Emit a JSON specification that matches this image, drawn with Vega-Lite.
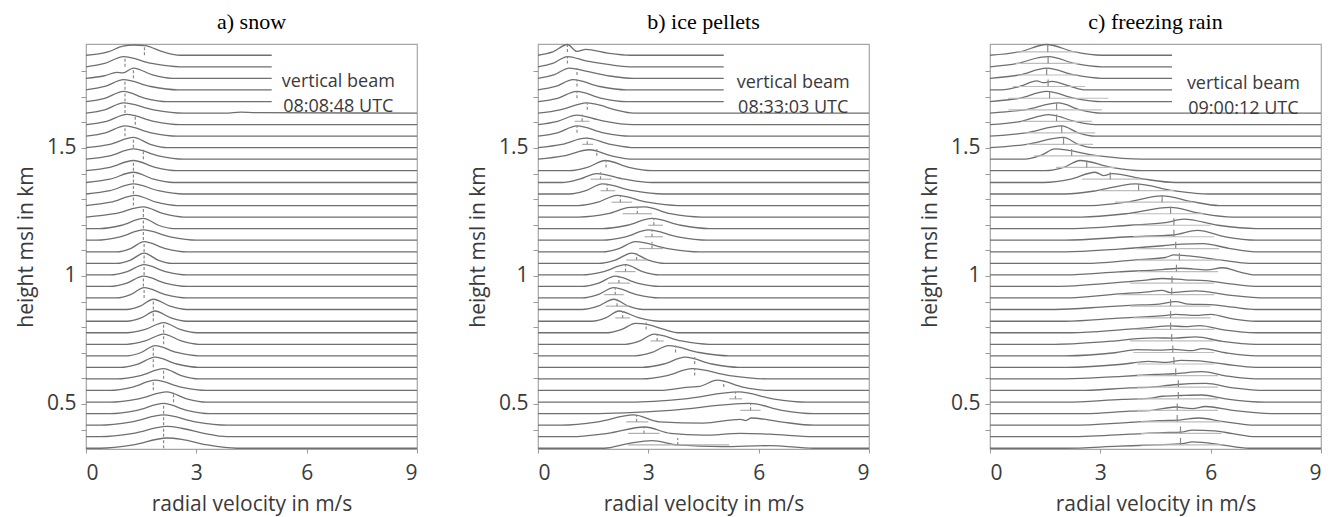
{
"$schema": "https://vega.github.io/schema/vega-lite/v6.json",
"padding": {"left": 14, "top": 10, "right": 5, "bottom": 3},
"spacing": 121,
"bounds": "flush",
"config": {
 "view": {"stroke": "#a6a6a6", "strokeWidth": 1.2},
 "axis": {"labelFont": "Open Sans", "titleFont": "Open Sans", "labelFontSize": 21, "titleFontSize": 21, "titleFontWeight": "normal", "labelColor": "#3a3a3a", "titleColor": "#3a3a3a", "domain": false, "grid": false, "tickColor": "#999999", "labelOverlap": false},
 "title": {"font": "Liberation Serif", "fontSize": 22, "fontWeight": "normal", "color": "#000000", "anchor": "middle", "offset": 8, "frame": "group"}
},
"datasets": {
"s": [
{"p":"a","r":0,"v":0,"y":1.862},{"p":"a","r":0,"v":0.6,"y":1.875},{"p":"a","r":0,"v":1.0,"y":1.898},{"p":"a","r":0,"v":1.3,"y":1.902},{"p":"a","r":0,"v":1.6,"y":1.9},{"p":"a","r":0,"v":2.1,"y":1.875},{"p":"a","r":0,"v":2.56,"y":1.862},{"p":"a","r":0,"v":5.05,"y":1.862},
{"p":"a","r":1,"v":0,"y":1.817},{"p":"a","r":1,"v":0.51,"y":1.83},{"p":"a","r":1,"v":1.02,"y":1.857},{"p":"a","r":1,"v":1.79,"y":1.83},{"p":"a","r":1,"v":2.56,"y":1.817},{"p":"a","r":1,"v":5.05,"y":1.817},
{"p":"a","r":2,"v":0,"y":1.772},{"p":"a","r":2,"v":0.5,"y":1.782},{"p":"a","r":2,"v":0.84,"y":1.795},{"p":"a","r":2,"v":1.0,"y":1.793},{"p":"a","r":2,"v":1.29,"y":1.812},{"p":"a","r":2,"v":1.81,"y":1.785},{"p":"a","r":2,"v":2.33,"y":1.772},{"p":"a","r":2,"v":5.05,"y":1.772},
{"p":"a","r":3,"v":0,"y":1.727},{"p":"a","r":3,"v":0.51,"y":1.74},{"p":"a","r":3,"v":1.02,"y":1.767},{"p":"a","r":3,"v":1.76,"y":1.74},{"p":"a","r":3,"v":2.5,"y":1.727},{"p":"a","r":3,"v":5.05,"y":1.727},
{"p":"a","r":4,"v":0,"y":1.681},{"p":"a","r":4,"v":0.51,"y":1.694},{"p":"a","r":4,"v":1.02,"y":1.721},{"p":"a","r":4,"v":1.61,"y":1.694},{"p":"a","r":4,"v":2.2,"y":1.681},{"p":"a","r":4,"v":5.05,"y":1.681},
{"p":"a","r":5,"v":0,"y":1.636},{"p":"a","r":5,"v":0.51,"y":1.649},{"p":"a","r":5,"v":1.02,"y":1.676},{"p":"a","r":5,"v":1.84,"y":1.649},{"p":"a","r":5,"v":2.65,"y":1.636},{"p":"a","r":5,"v":3.8,"y":1.636},{"p":"a","r":5,"v":4.2,"y":1.64},{"p":"a","r":5,"v":4.6,"y":1.638},{"p":"a","r":5,"v":9,"y":1.636},
{"p":"a","r":6,"v":0,"y":1.591},{"p":"a","r":6,"v":0.56,"y":1.604},{"p":"a","r":6,"v":1.11,"y":1.631},{"p":"a","r":6,"v":1.84,"y":1.604},{"p":"a","r":6,"v":2.56,"y":1.591},{"p":"a","r":6,"v":9,"y":1.591},
{"p":"a","r":7,"v":0,"y":1.546},{"p":"a","r":7,"v":0.53,"y":1.559},{"p":"a","r":7,"v":1.06,"y":1.586},{"p":"a","r":7,"v":1.77,"y":1.559},{"p":"a","r":7,"v":2.47,"y":1.546},{"p":"a","r":7,"v":9,"y":1.546},
{"p":"a","r":8,"v":0,"y":1.501},{"p":"a","r":8,"v":0.65,"y":1.514},{"p":"a","r":8,"v":1.29,"y":1.541},{"p":"a","r":8,"v":1.75,"y":1.514},{"p":"a","r":8,"v":2.2,"y":1.501},{"p":"a","r":8,"v":9,"y":1.501},
{"p":"a","r":9,"v":0,"y":1.456},{"p":"a","r":9,"v":0.65,"y":1.469},{"p":"a","r":9,"v":1.29,"y":1.496},{"p":"a","r":9,"v":1.97,"y":1.469},{"p":"a","r":9,"v":2.65,"y":1.456},{"p":"a","r":9,"v":9,"y":1.456},
{"p":"a","r":10,"v":0,"y":1.411},{"p":"a","r":10,"v":0.65,"y":1.424},{"p":"a","r":10,"v":1.29,"y":1.451},{"p":"a","r":10,"v":1.88,"y":1.424},{"p":"a","r":10,"v":2.47,"y":1.411},{"p":"a","r":10,"v":9,"y":1.411},
{"p":"a","r":11,"v":0,"y":1.365},{"p":"a","r":11,"v":0.65,"y":1.378},{"p":"a","r":11,"v":1.29,"y":1.405},{"p":"a","r":11,"v":1.84,"y":1.378},{"p":"a","r":11,"v":2.38,"y":1.365},{"p":"a","r":11,"v":9,"y":1.365},
{"p":"a","r":12,"v":0,"y":1.32},{"p":"a","r":12,"v":0.65,"y":1.333},{"p":"a","r":12,"v":1.29,"y":1.36},{"p":"a","r":12,"v":1.97,"y":1.333},{"p":"a","r":12,"v":2.65,"y":1.32},{"p":"a","r":12,"v":9,"y":1.32},
{"p":"a","r":13,"v":0,"y":1.275},{"p":"a","r":13,"v":0.67,"y":1.288},{"p":"a","r":13,"v":1.34,"y":1.315},{"p":"a","r":13,"v":1.91,"y":1.288},{"p":"a","r":13,"v":2.47,"y":1.275},{"p":"a","r":13,"v":9,"y":1.275},
{"p":"a","r":14,"v":0,"y":1.23},{"p":"a","r":14,"v":0.78,"y":1.243},{"p":"a","r":14,"v":1.56,"y":1.27},{"p":"a","r":14,"v":2.11,"y":1.243},{"p":"a","r":14,"v":2.65,"y":1.23},{"p":"a","r":14,"v":9,"y":1.23},
{"p":"a","r":15,"v":0,"y":1.185},{"p":"a","r":15,"v":0.38,"y":1.185},{"p":"a","r":15,"v":0.97,"y":1.198},{"p":"a","r":15,"v":1.56,"y":1.225},{"p":"a","r":15,"v":1.97,"y":1.198},{"p":"a","r":15,"v":2.38,"y":1.185},{"p":"a","r":15,"v":9,"y":1.185},
{"p":"a","r":16,"v":0,"y":1.14},{"p":"a","r":16,"v":0.29,"y":1.14},{"p":"a","r":16,"v":0.93,"y":1.153},{"p":"a","r":16,"v":1.56,"y":1.18},{"p":"a","r":16,"v":2.29,"y":1.153},{"p":"a","r":16,"v":3.01,"y":1.14},{"p":"a","r":16,"v":9,"y":1.14},
{"p":"a","r":17,"v":0,"y":1.094},{"p":"a","r":17,"v":0.84,"y":1.094},{"p":"a","r":17,"v":1.21,"y":1.107},{"p":"a","r":17,"v":1.58,"y":1.134},{"p":"a","r":17,"v":2.16,"y":1.107},{"p":"a","r":17,"v":2.74,"y":1.094},{"p":"a","r":17,"v":9,"y":1.094},
{"p":"a","r":18,"v":0,"y":1.049},{"p":"a","r":18,"v":0.84,"y":1.049},{"p":"a","r":18,"v":1.21,"y":1.062},{"p":"a","r":18,"v":1.58,"y":1.089},{"p":"a","r":18,"v":1.96,"y":1.062},{"p":"a","r":18,"v":2.33,"y":1.049},{"p":"a","r":18,"v":9,"y":1.049},
{"p":"a","r":19,"v":0,"y":1.004},{"p":"a","r":19,"v":0.66,"y":1.004},{"p":"a","r":19,"v":1.12,"y":1.017},{"p":"a","r":19,"v":1.58,"y":1.044},{"p":"a","r":19,"v":2.16,"y":1.017},{"p":"a","r":19,"v":2.74,"y":1.004},{"p":"a","r":19,"v":9,"y":1.004},
{"p":"a","r":20,"v":0,"y":0.959},{"p":"a","r":20,"v":0.66,"y":0.959},{"p":"a","r":20,"v":1.11,"y":0.972},{"p":"a","r":20,"v":1.56,"y":0.999},{"p":"a","r":20,"v":2.15,"y":0.972},{"p":"a","r":20,"v":2.74,"y":0.959},{"p":"a","r":20,"v":9,"y":0.959},
{"p":"a","r":21,"v":0,"y":0.914},{"p":"a","r":21,"v":0.84,"y":0.914},{"p":"a","r":21,"v":1.21,"y":0.927},{"p":"a","r":21,"v":1.58,"y":0.954},{"p":"a","r":21,"v":2.16,"y":0.927},{"p":"a","r":21,"v":2.74,"y":0.914},{"p":"a","r":21,"v":9,"y":0.914},
{"p":"a","r":22,"v":0,"y":0.869},{"p":"a","r":22,"v":1.11,"y":0.869},{"p":"a","r":22,"v":1.47,"y":0.882},{"p":"a","r":22,"v":1.83,"y":0.909},{"p":"a","r":22,"v":2.29,"y":0.882},{"p":"a","r":22,"v":2.74,"y":0.869},{"p":"a","r":22,"v":9,"y":0.869},
{"p":"a","r":23,"v":0,"y":0.823},{"p":"a","r":23,"v":1.11,"y":0.823},{"p":"a","r":23,"v":1.5,"y":0.836},{"p":"a","r":23,"v":1.88,"y":0.863},{"p":"a","r":23,"v":2.31,"y":0.836},{"p":"a","r":23,"v":2.74,"y":0.823},{"p":"a","r":23,"v":9,"y":0.823},
{"p":"a","r":24,"v":0,"y":0.778},{"p":"a","r":24,"v":1.11,"y":0.778},{"p":"a","r":24,"v":1.61,"y":0.791},{"p":"a","r":24,"v":2.11,"y":0.818},{"p":"a","r":24,"v":2.56,"y":0.791},{"p":"a","r":24,"v":3.01,"y":0.778},{"p":"a","r":24,"v":9,"y":0.778},
{"p":"a","r":25,"v":0,"y":0.733},{"p":"a","r":25,"v":1.11,"y":0.733},{"p":"a","r":25,"v":1.61,"y":0.746},{"p":"a","r":25,"v":2.11,"y":0.773},{"p":"a","r":25,"v":2.59,"y":0.746},{"p":"a","r":25,"v":3.06,"y":0.733},{"p":"a","r":25,"v":9,"y":0.733},
{"p":"a","r":26,"v":0,"y":0.688},{"p":"a","r":26,"v":1.11,"y":0.688},{"p":"a","r":26,"v":1.5,"y":0.701},{"p":"a","r":26,"v":1.88,"y":0.728},{"p":"a","r":26,"v":2.47,"y":0.701},{"p":"a","r":26,"v":3.06,"y":0.688},{"p":"a","r":26,"v":9,"y":0.688},
{"p":"a","r":27,"v":0,"y":0.643},{"p":"a","r":27,"v":0.93,"y":0.643},{"p":"a","r":27,"v":1.41,"y":0.656},{"p":"a","r":27,"v":1.88,"y":0.683},{"p":"a","r":27,"v":2.47,"y":0.656},{"p":"a","r":27,"v":3.06,"y":0.643},{"p":"a","r":27,"v":9,"y":0.643},
{"p":"a","r":28,"v":0,"y":0.598},{"p":"a","r":28,"v":0.84,"y":0.598},{"p":"a","r":28,"v":1.48,"y":0.611},{"p":"a","r":28,"v":2.11,"y":0.638},{"p":"a","r":28,"v":2.59,"y":0.611},{"p":"a","r":28,"v":3.06,"y":0.598},{"p":"a","r":28,"v":9,"y":0.598},
{"p":"a","r":29,"v":0,"y":0.553},{"p":"a","r":29,"v":0.66,"y":0.553},{"p":"a","r":29,"v":1.27,"y":0.566},{"p":"a","r":29,"v":1.88,"y":0.593},{"p":"a","r":29,"v":2.58,"y":0.566},{"p":"a","r":29,"v":3.28,"y":0.553},{"p":"a","r":29,"v":9,"y":0.553},
{"p":"a","r":30,"v":0,"y":0.507},{"p":"a","r":30,"v":0.66,"y":0.507},{"p":"a","r":30,"v":1.43,"y":0.52},{"p":"a","r":30,"v":2.2,"y":0.547},{"p":"a","r":30,"v":2.74,"y":0.52},{"p":"a","r":30,"v":3.28,"y":0.507},{"p":"a","r":30,"v":9,"y":0.507},
{"p":"a","r":31,"v":0,"y":0.462},{"p":"a","r":31,"v":0.66,"y":0.462},{"p":"a","r":31,"v":1.39,"y":0.475},{"p":"a","r":31,"v":2.11,"y":0.502},{"p":"a","r":31,"v":2.74,"y":0.475},{"p":"a","r":31,"v":3.37,"y":0.462},{"p":"a","r":31,"v":9,"y":0.462},
{"p":"a","r":32,"v":0,"y":0.417},{"p":"a","r":32,"v":0.38,"y":0.417},{"p":"a","r":32,"v":1.25,"y":0.43},{"p":"a","r":32,"v":2.11,"y":0.457},{"p":"a","r":32,"v":2.97,"y":0.43},{"p":"a","r":32,"v":3.83,"y":0.417},{"p":"a","r":32,"v":9,"y":0.417},
{"p":"a","r":33,"v":0,"y":0.372},{"p":"a","r":33,"v":0.38,"y":0.372},{"p":"a","r":33,"v":1.29,"y":0.385},{"p":"a","r":33,"v":2.2,"y":0.412},{"p":"a","r":33,"v":2.6,"y":0.405},{"p":"a","r":33,"v":3.2,"y":0.385},{"p":"a","r":33,"v":3.83,"y":0.372},{"p":"a","r":33,"v":9,"y":0.372},
{"p":"a","r":34,"v":0,"y":0.327},{"p":"a","r":34,"v":0.38,"y":0.327},{"p":"a","r":34,"v":1.29,"y":0.34},{"p":"a","r":34,"v":2.2,"y":0.367},{"p":"a","r":34,"v":2.6,"y":0.362},{"p":"a","r":34,"v":3.3,"y":0.34},{"p":"a","r":34,"v":4.1,"y":0.327},{"p":"a","r":34,"v":9,"y":0.327},

{"p":"b","r":0,"v":0,"y":1.862},{"p":"b","r":0,"v":0.4,"y":1.875},{"p":"b","r":0,"v":0.8,"y":1.904},{"p":"b","r":0,"v":1.06,"y":1.877},{"p":"b","r":0,"v":1.3,"y":1.885},{"p":"b","r":0,"v":1.9,"y":1.87},{"p":"b","r":0,"v":2.5,"y":1.862},{"p":"b","r":0,"v":5.05,"y":1.862},
{"p":"b","r":1,"v":0,"y":1.817},{"p":"b","r":1,"v":0.4,"y":1.83},{"p":"b","r":1,"v":0.8,"y":1.857},{"p":"b","r":1,"v":1.3,"y":1.84},{"p":"b","r":1,"v":1.9,"y":1.826},{"p":"b","r":1,"v":2.5,"y":1.817},{"p":"b","r":1,"v":5.05,"y":1.817},
{"p":"b","r":2,"v":0,"y":1.772},{"p":"b","r":2,"v":0.43,"y":1.785},{"p":"b","r":2,"v":0.85,"y":1.812},{"p":"b","r":2,"v":1.3,"y":1.8},{"p":"b","r":2,"v":1.95,"y":1.781},{"p":"b","r":2,"v":2.6,"y":1.772},{"p":"b","r":2,"v":5.05,"y":1.772},
{"p":"b","r":3,"v":0,"y":1.727},{"p":"b","r":3,"v":0.48,"y":1.74},{"p":"b","r":3,"v":0.95,"y":1.767},{"p":"b","r":3,"v":1.68,"y":1.74},{"p":"b","r":3,"v":2.4,"y":1.727},{"p":"b","r":3,"v":5.05,"y":1.727},
{"p":"b","r":4,"v":0,"y":1.681},{"p":"b","r":4,"v":0.53,"y":1.694},{"p":"b","r":4,"v":1.05,"y":1.721},{"p":"b","r":4,"v":1.73,"y":1.694},{"p":"b","r":4,"v":2.4,"y":1.681},{"p":"b","r":4,"v":5.05,"y":1.681},
{"p":"b","r":5,"v":0,"y":1.636},{"p":"b","r":5,"v":0.6,"y":1.649},{"p":"b","r":5,"v":1.1,"y":1.67},{"p":"b","r":5,"v":1.3,"y":1.676},{"p":"b","r":5,"v":1.6,"y":1.67},{"p":"b","r":5,"v":2.1,"y":1.649},{"p":"b","r":5,"v":2.6,"y":1.636},{"p":"b","r":5,"v":9,"y":1.636},
{"p":"b","r":6,"v":0,"y":1.591},{"p":"b","r":6,"v":0.53,"y":1.604},{"p":"b","r":6,"v":1.06,"y":1.628},{"p":"b","r":6,"v":1.5,"y":1.615},{"p":"b","r":6,"v":1.8,"y":1.605},{"p":"b","r":6,"v":2.6,"y":1.591},{"p":"b","r":6,"v":9,"y":1.591},
{"p":"b","r":7,"v":0,"y":1.546},{"p":"b","r":7,"v":0.53,"y":1.559},{"p":"b","r":7,"v":1.06,"y":1.586},{"p":"b","r":7,"v":1.78,"y":1.559},{"p":"b","r":7,"v":2.5,"y":1.546},{"p":"b","r":7,"v":9,"y":1.546},
{"p":"b","r":8,"v":0,"y":1.501},{"p":"b","r":8,"v":0.65,"y":1.514},{"p":"b","r":8,"v":1.3,"y":1.538},{"p":"b","r":8,"v":1.98,"y":1.514},{"p":"b","r":8,"v":2.65,"y":1.501},{"p":"b","r":8,"v":9,"y":1.501},
{"p":"b","r":9,"v":0,"y":1.456},{"p":"b","r":9,"v":0.7,"y":1.469},{"p":"b","r":9,"v":1.4,"y":1.493},{"p":"b","r":9,"v":2.0,"y":1.469},{"p":"b","r":9,"v":2.6,"y":1.456},{"p":"b","r":9,"v":9,"y":1.456},
{"p":"b","r":10,"v":0,"y":1.411},{"p":"b","r":10,"v":0.85,"y":1.411},{"p":"b","r":10,"v":1.34,"y":1.424},{"p":"b","r":10,"v":1.83,"y":1.451},{"p":"b","r":10,"v":2.47,"y":1.424},{"p":"b","r":10,"v":3.1,"y":1.411},{"p":"b","r":10,"v":9,"y":1.411},
{"p":"b","r":11,"v":0,"y":1.365},{"p":"b","r":11,"v":0.66,"y":1.365},{"p":"b","r":11,"v":1.13,"y":1.378},{"p":"b","r":11,"v":1.6,"y":1.4},{"p":"b","r":11,"v":2.35,"y":1.378},{"p":"b","r":11,"v":3.1,"y":1.365},{"p":"b","r":11,"v":9,"y":1.365},
{"p":"b","r":12,"v":0,"y":1.32},{"p":"b","r":12,"v":0.85,"y":1.32},{"p":"b","r":12,"v":1.3,"y":1.333},{"p":"b","r":12,"v":1.75,"y":1.36},{"p":"b","r":12,"v":2.58,"y":1.333},{"p":"b","r":12,"v":3.4,"y":1.32},{"p":"b","r":12,"v":9,"y":1.32},
{"p":"b","r":13,"v":0,"y":1.275},{"p":"b","r":13,"v":1.1,"y":1.275},{"p":"b","r":13,"v":1.63,"y":1.288},{"p":"b","r":13,"v":2.15,"y":1.315},{"p":"b","r":13,"v":2.98,"y":1.288},{"p":"b","r":13,"v":3.8,"y":1.275},{"p":"b","r":13,"v":9,"y":1.275},
{"p":"b","r":14,"v":0,"y":1.23},{"p":"b","r":14,"v":1.1,"y":1.23},{"p":"b","r":14,"v":1.9,"y":1.243},{"p":"b","r":14,"v":2.5,"y":1.268},{"p":"b","r":14,"v":2.9,"y":1.27},{"p":"b","r":14,"v":3.6,"y":1.243},{"p":"b","r":14,"v":4.45,"y":1.23},{"p":"b","r":14,"v":9,"y":1.23},
{"p":"b","r":15,"v":0,"y":1.185},{"p":"b","r":15,"v":1.75,"y":1.185},{"p":"b","r":15,"v":2.43,"y":1.198},{"p":"b","r":15,"v":3.1,"y":1.225},{"p":"b","r":15,"v":3.88,"y":1.198},{"p":"b","r":15,"v":4.65,"y":1.185},{"p":"b","r":15,"v":9,"y":1.185},
{"p":"b","r":16,"v":0,"y":1.14},{"p":"b","r":16,"v":1.75,"y":1.14},{"p":"b","r":16,"v":2.38,"y":1.153},{"p":"b","r":16,"v":3.0,"y":1.18},{"p":"b","r":16,"v":3.8,"y":1.153},{"p":"b","r":16,"v":4.6,"y":1.14},{"p":"b","r":16,"v":9,"y":1.14},
{"p":"b","r":17,"v":0,"y":1.094},{"p":"b","r":17,"v":1.75,"y":1.094},{"p":"b","r":17,"v":2.2,"y":1.107},{"p":"b","r":17,"v":2.65,"y":1.134},{"p":"b","r":17,"v":3.53,"y":1.107},{"p":"b","r":17,"v":4.4,"y":1.094},{"p":"b","r":17,"v":9,"y":1.094},
{"p":"b","r":18,"v":0,"y":1.049},{"p":"b","r":18,"v":1.65,"y":1.049},{"p":"b","r":18,"v":2.1,"y":1.062},{"p":"b","r":18,"v":2.55,"y":1.089},{"p":"b","r":18,"v":3.0,"y":1.062},{"p":"b","r":18,"v":3.45,"y":1.049},{"p":"b","r":18,"v":9,"y":1.049},
{"p":"b","r":19,"v":0,"y":1.004},{"p":"b","r":19,"v":1.2,"y":1.004},{"p":"b","r":19,"v":1.79,"y":1.017},{"p":"b","r":19,"v":2.38,"y":1.044},{"p":"b","r":19,"v":2.84,"y":1.017},{"p":"b","r":19,"v":3.3,"y":1.004},{"p":"b","r":19,"v":9,"y":1.004},
{"p":"b","r":20,"v":0,"y":0.959},{"p":"b","r":20,"v":1.2,"y":0.959},{"p":"b","r":20,"v":1.65,"y":0.972},{"p":"b","r":20,"v":2.1,"y":0.999},{"p":"b","r":20,"v":2.7,"y":0.972},{"p":"b","r":20,"v":3.3,"y":0.959},{"p":"b","r":20,"v":9,"y":0.959},
{"p":"b","r":21,"v":0,"y":0.914},{"p":"b","r":21,"v":1.2,"y":0.914},{"p":"b","r":21,"v":1.63,"y":0.927},{"p":"b","r":21,"v":2.06,"y":0.954},{"p":"b","r":21,"v":2.68,"y":0.927},{"p":"b","r":21,"v":3.3,"y":0.914},{"p":"b","r":21,"v":9,"y":0.914},
{"p":"b","r":22,"v":0,"y":0.869},{"p":"b","r":22,"v":1.2,"y":0.869},{"p":"b","r":22,"v":1.63,"y":0.882},{"p":"b","r":22,"v":2.06,"y":0.909},{"p":"b","r":22,"v":2.46,"y":0.882},{"p":"b","r":22,"v":2.85,"y":0.869},{"p":"b","r":22,"v":9,"y":0.869},
{"p":"b","r":23,"v":0,"y":0.823},{"p":"b","r":23,"v":1.47,"y":0.823},{"p":"b","r":23,"v":1.84,"y":0.836},{"p":"b","r":23,"v":2.2,"y":0.863},{"p":"b","r":23,"v":2.75,"y":0.836},{"p":"b","r":23,"v":3.3,"y":0.823},{"p":"b","r":23,"v":9,"y":0.823},
{"p":"b","r":24,"v":0,"y":0.778},{"p":"b","r":24,"v":1.9,"y":0.778},{"p":"b","r":24,"v":2.28,"y":0.791},{"p":"b","r":24,"v":2.65,"y":0.815},{"p":"b","r":24,"v":3.0,"y":0.81},{"p":"b","r":24,"v":3.43,"y":0.791},{"p":"b","r":24,"v":3.85,"y":0.778},{"p":"b","r":24,"v":9,"y":0.778},
{"p":"b","r":25,"v":0,"y":0.733},{"p":"b","r":25,"v":2.38,"y":0.733},{"p":"b","r":25,"v":2.77,"y":0.746},{"p":"b","r":25,"v":3.15,"y":0.773},{"p":"b","r":25,"v":3.9,"y":0.746},{"p":"b","r":25,"v":4.65,"y":0.733},{"p":"b","r":25,"v":9,"y":0.733},
{"p":"b","r":26,"v":0,"y":0.688},{"p":"b","r":26,"v":2.65,"y":0.688},{"p":"b","r":26,"v":3.1,"y":0.701},{"p":"b","r":26,"v":3.55,"y":0.728},{"p":"b","r":26,"v":4.38,"y":0.701},{"p":"b","r":26,"v":5.2,"y":0.688},{"p":"b","r":26,"v":9,"y":0.688},
{"p":"b","r":27,"v":0,"y":0.643},{"p":"b","r":27,"v":2.83,"y":0.643},{"p":"b","r":27,"v":3.42,"y":0.656},{"p":"b","r":27,"v":4.0,"y":0.683},{"p":"b","r":27,"v":4.73,"y":0.656},{"p":"b","r":27,"v":5.46,"y":0.643},{"p":"b","r":27,"v":9,"y":0.643},
{"p":"b","r":28,"v":0,"y":0.598},{"p":"b","r":28,"v":2.83,"y":0.598},{"p":"b","r":28,"v":3.51,"y":0.611},{"p":"b","r":28,"v":4.19,"y":0.638},{"p":"b","r":28,"v":5.21,"y":0.611},{"p":"b","r":28,"v":6.23,"y":0.598},{"p":"b","r":28,"v":9,"y":0.598},
{"p":"b","r":29,"v":0,"y":0.553},{"p":"b","r":29,"v":3.33,"y":0.553},{"p":"b","r":29,"v":4.1,"y":0.566},{"p":"b","r":29,"v":4.4,"y":0.569},{"p":"b","r":29,"v":4.87,"y":0.593},{"p":"b","r":29,"v":5.57,"y":0.566},{"p":"b","r":29,"v":6.27,"y":0.553},{"p":"b","r":29,"v":9,"y":0.553},
{"p":"b","r":30,"v":0,"y":0.507},{"p":"b","r":30,"v":2.5,"y":0.507},{"p":"b","r":30,"v":4.0,"y":0.52},{"p":"b","r":30,"v":5.46,"y":0.547},{"p":"b","r":30,"v":6.38,"y":0.52},{"p":"b","r":30,"v":7.3,"y":0.507},{"p":"b","r":30,"v":9,"y":0.507},
{"p":"b","r":31,"v":0,"y":0.462},{"p":"b","r":31,"v":1.46,"y":0.462},{"p":"b","r":31,"v":3.6,"y":0.475},{"p":"b","r":31,"v":5.76,"y":0.502},{"p":"b","r":31,"v":6.63,"y":0.475},{"p":"b","r":31,"v":7.5,"y":0.462},{"p":"b","r":31,"v":9,"y":0.462},
{"p":"b","r":32,"v":0,"y":0.417},{"p":"b","r":32,"v":0.63,"y":0.417},{"p":"b","r":32,"v":1.63,"y":0.43},{"p":"b","r":32,"v":2.6,"y":0.457},{"p":"b","r":32,"v":3.3,"y":0.43},{"p":"b","r":32,"v":4.5,"y":0.425},{"p":"b","r":32,"v":5.5,"y":0.44},{"p":"b","r":32,"v":5.65,"y":0.435},{"p":"b","r":32,"v":5.8,"y":0.445},{"p":"b","r":32,"v":6.6,"y":0.43},{"p":"b","r":32,"v":7.5,"y":0.417},{"p":"b","r":32,"v":9,"y":0.417},
{"p":"b","r":33,"v":0,"y":0.372},{"p":"b","r":33,"v":0.9,"y":0.372},{"p":"b","r":33,"v":1.9,"y":0.385},{"p":"b","r":33,"v":2.9,"y":0.41},{"p":"b","r":33,"v":3.6,"y":0.385},{"p":"b","r":33,"v":4.5,"y":0.378},{"p":"b","r":33,"v":5.5,"y":0.385},{"p":"b","r":33,"v":6.3,"y":0.382},{"p":"b","r":33,"v":7.5,"y":0.372},{"p":"b","r":33,"v":9,"y":0.372},
{"p":"b","r":34,"v":0,"y":0.327},{"p":"b","r":34,"v":1.8,"y":0.327},{"p":"b","r":34,"v":2.45,"y":0.345},{"p":"b","r":34,"v":3.1,"y":0.357},{"p":"b","r":34,"v":3.8,"y":0.34},{"p":"b","r":34,"v":5.0,"y":0.333},{"p":"b","r":34,"v":6.3,"y":0.337},{"p":"b","r":34,"v":7.5,"y":0.327},{"p":"b","r":34,"v":9,"y":0.327},

{"p":"c","r":0,"v":0,"y":1.862},{"p":"c","r":0,"v":0.8,"y":1.875},{"p":"c","r":0,"v":1.54,"y":1.904},{"p":"c","r":0,"v":2.3,"y":1.875},{"p":"c","r":0,"v":3.04,"y":1.862},{"p":"c","r":0,"v":4.95,"y":1.862},
{"p":"c","r":1,"v":0,"y":1.817},{"p":"c","r":1,"v":0.75,"y":1.83},{"p":"c","r":1,"v":1.4,"y":1.855},{"p":"c","r":1,"v":1.6,"y":1.857},{"p":"c","r":1,"v":2.3,"y":1.83},{"p":"c","r":1,"v":3.04,"y":1.817},{"p":"c","r":1,"v":4.95,"y":1.817},
{"p":"c","r":2,"v":0,"y":1.772},{"p":"c","r":2,"v":0.8,"y":1.785},{"p":"c","r":2,"v":1.54,"y":1.812},{"p":"c","r":2,"v":2.3,"y":1.785},{"p":"c","r":2,"v":3.04,"y":1.772},{"p":"c","r":2,"v":4.95,"y":1.772},
{"p":"c","r":3,"v":0,"y":1.727},{"p":"c","r":3,"v":0.31,"y":1.727},{"p":"c","r":3,"v":0.85,"y":1.742},{"p":"c","r":3,"v":1.27,"y":1.762},{"p":"c","r":3,"v":1.45,"y":1.755},{"p":"c","r":3,"v":1.68,"y":1.76},{"p":"c","r":3,"v":2.2,"y":1.74},{"p":"c","r":3,"v":2.59,"y":1.727},{"p":"c","r":3,"v":4.95,"y":1.727},
{"p":"c","r":4,"v":0,"y":1.681},{"p":"c","r":4,"v":0.8,"y":1.694},{"p":"c","r":4,"v":1.54,"y":1.721},{"p":"c","r":4,"v":2.3,"y":1.694},{"p":"c","r":4,"v":3.04,"y":1.681},{"p":"c","r":4,"v":4.95,"y":1.681},
{"p":"c","r":5,"v":0,"y":1.636},{"p":"c","r":5,"v":0.95,"y":1.649},{"p":"c","r":5,"v":1.86,"y":1.676},{"p":"c","r":5,"v":2.45,"y":1.649},{"p":"c","r":5,"v":3.04,"y":1.636},{"p":"c","r":5,"v":9,"y":1.636},
{"p":"c","r":6,"v":0,"y":1.591},{"p":"c","r":6,"v":0.85,"y":1.604},{"p":"c","r":6,"v":1.6,"y":1.63},{"p":"c","r":6,"v":1.72,"y":1.628},{"p":"c","r":6,"v":2.3,"y":1.604},{"p":"c","r":6,"v":2.86,"y":1.591},{"p":"c","r":6,"v":9,"y":1.591},
{"p":"c","r":7,"v":0,"y":1.546},{"p":"c","r":7,"v":0.98,"y":1.559},{"p":"c","r":7,"v":1.95,"y":1.586},{"p":"c","r":7,"v":2.4,"y":1.559},{"p":"c","r":7,"v":2.86,"y":1.546},{"p":"c","r":7,"v":9,"y":1.546},
{"p":"c","r":8,"v":0,"y":1.501},{"p":"c","r":8,"v":1.0,"y":1.514},{"p":"c","r":8,"v":2.0,"y":1.541},{"p":"c","r":8,"v":2.4,"y":1.514},{"p":"c","r":8,"v":2.77,"y":1.501},{"p":"c","r":8,"v":9,"y":1.501},
{"p":"c","r":9,"v":0,"y":1.456},{"p":"c","r":9,"v":0.95,"y":1.456},{"p":"c","r":9,"v":1.4,"y":1.472},{"p":"c","r":9,"v":1.77,"y":1.496},{"p":"c","r":9,"v":2.9,"y":1.47},{"p":"c","r":9,"v":4.13,"y":1.456},{"p":"c","r":9,"v":9,"y":1.456},
{"p":"c","r":10,"v":0,"y":1.411},{"p":"c","r":10,"v":1.5,"y":1.411},{"p":"c","r":10,"v":2.0,"y":1.424},{"p":"c","r":10,"v":2.45,"y":1.451},{"p":"c","r":10,"v":3.3,"y":1.424},{"p":"c","r":10,"v":4.13,"y":1.411},{"p":"c","r":10,"v":9,"y":1.411},
{"p":"c","r":11,"v":0,"y":1.365},{"p":"c","r":11,"v":1.45,"y":1.365},{"p":"c","r":11,"v":2.2,"y":1.378},{"p":"c","r":11,"v":2.86,"y":1.405},{"p":"c","r":11,"v":3.09,"y":1.392},{"p":"c","r":11,"v":3.32,"y":1.4},{"p":"c","r":11,"v":4.2,"y":1.378},{"p":"c","r":11,"v":5.05,"y":1.365},{"p":"c","r":11,"v":9,"y":1.365},
{"p":"c","r":12,"v":0,"y":1.32},{"p":"c","r":12,"v":2.04,"y":1.32},{"p":"c","r":12,"v":2.9,"y":1.333},{"p":"c","r":12,"v":3.77,"y":1.358},{"p":"c","r":12,"v":3.95,"y":1.36},{"p":"c","r":12,"v":5.0,"y":1.333},{"p":"c","r":12,"v":5.96,"y":1.32},{"p":"c","r":12,"v":9,"y":1.32},
{"p":"c","r":13,"v":0,"y":1.275},{"p":"c","r":13,"v":2.77,"y":1.275},{"p":"c","r":13,"v":3.7,"y":1.288},{"p":"c","r":13,"v":4.68,"y":1.313},{"p":"c","r":13,"v":5.5,"y":1.29},{"p":"c","r":13,"v":6.23,"y":1.275},{"p":"c","r":13,"v":9,"y":1.275},
{"p":"c","r":14,"v":0,"y":1.23},{"p":"c","r":14,"v":2.5,"y":1.23},{"p":"c","r":14,"v":3.7,"y":1.243},{"p":"c","r":14,"v":4.91,"y":1.268},{"p":"c","r":14,"v":5.7,"y":1.245},{"p":"c","r":14,"v":6.59,"y":1.23},{"p":"c","r":14,"v":9,"y":1.23},
{"p":"c","r":15,"v":0,"y":1.185},{"p":"c","r":15,"v":2.27,"y":1.185},{"p":"c","r":15,"v":3.8,"y":1.198},{"p":"c","r":15,"v":4.77,"y":1.208},{"p":"c","r":15,"v":5.27,"y":1.222},{"p":"c","r":15,"v":6.2,"y":1.198},{"p":"c","r":15,"v":7.23,"y":1.185},{"p":"c","r":15,"v":9,"y":1.185},
{"p":"c","r":16,"v":0,"y":1.14},{"p":"c","r":16,"v":2.04,"y":1.14},{"p":"c","r":16,"v":3.8,"y":1.153},{"p":"c","r":16,"v":5.0,"y":1.16},{"p":"c","r":16,"v":5.64,"y":1.178},{"p":"c","r":16,"v":6.4,"y":1.153},{"p":"c","r":16,"v":7.23,"y":1.14},{"p":"c","r":16,"v":9,"y":1.14},
{"p":"c","r":17,"v":0,"y":1.094},{"p":"c","r":17,"v":2.04,"y":1.094},{"p":"c","r":17,"v":3.5,"y":1.105},{"p":"c","r":17,"v":4.7,"y":1.118},{"p":"c","r":17,"v":5.2,"y":1.124},{"p":"c","r":17,"v":5.8,"y":1.126},{"p":"c","r":17,"v":6.5,"y":1.108},{"p":"c","r":17,"v":7.32,"y":1.094},{"p":"c","r":17,"v":9,"y":1.094},
{"p":"c","r":18,"v":0,"y":1.049},{"p":"c","r":18,"v":2.59,"y":1.049},{"p":"c","r":18,"v":3.9,"y":1.062},{"p":"c","r":18,"v":4.77,"y":1.072},{"p":"c","r":18,"v":5.0,"y":1.082},{"p":"c","r":18,"v":5.41,"y":1.078},{"p":"c","r":18,"v":6.3,"y":1.062},{"p":"c","r":18,"v":7.05,"y":1.049},{"p":"c","r":18,"v":9,"y":1.049},
{"p":"c","r":19,"v":0,"y":1.004},{"p":"c","r":19,"v":2.04,"y":1.004},{"p":"c","r":19,"v":3.5,"y":1.016},{"p":"c","r":19,"v":4.68,"y":1.025},{"p":"c","r":19,"v":5.2,"y":1.03},{"p":"c","r":19,"v":5.9,"y":1.024},{"p":"c","r":19,"v":6.32,"y":1.032},{"p":"c","r":19,"v":6.8,"y":1.015},{"p":"c","r":19,"v":7.23,"y":1.004},{"p":"c","r":19,"v":9,"y":1.004},
{"p":"c","r":20,"v":0,"y":0.959},{"p":"c","r":20,"v":1.77,"y":0.959},{"p":"c","r":20,"v":3.3,"y":0.972},{"p":"c","r":20,"v":4.3,"y":0.985},{"p":"c","r":20,"v":4.68,"y":0.99},{"p":"c","r":20,"v":5.3,"y":0.985},{"p":"c","r":20,"v":5.86,"y":0.982},{"p":"c","r":20,"v":6.6,"y":0.968},{"p":"c","r":20,"v":7.32,"y":0.959},{"p":"c","r":20,"v":9,"y":0.959},
{"p":"c","r":21,"v":0,"y":0.914},{"p":"c","r":21,"v":2.04,"y":0.914},{"p":"c","r":21,"v":3.5,"y":0.93},{"p":"c","r":21,"v":4.3,"y":0.938},{"p":"c","r":21,"v":4.68,"y":0.944},{"p":"c","r":21,"v":4.9,"y":0.935},{"p":"c","r":21,"v":5.6,"y":0.942},{"p":"c","r":21,"v":6.5,"y":0.925},{"p":"c","r":21,"v":7.5,"y":0.914},{"p":"c","r":21,"v":9,"y":0.914},
{"p":"c","r":22,"v":0,"y":0.869},{"p":"c","r":22,"v":1.77,"y":0.869},{"p":"c","r":22,"v":3.2,"y":0.88},{"p":"c","r":22,"v":3.8,"y":0.885},{"p":"c","r":22,"v":4.6,"y":0.89},{"p":"c","r":22,"v":5.05,"y":0.9},{"p":"c","r":22,"v":5.4,"y":0.89},{"p":"c","r":22,"v":6.0,"y":0.888},{"p":"c","r":22,"v":6.6,"y":0.878},{"p":"c","r":22,"v":7.23,"y":0.869},{"p":"c","r":22,"v":9,"y":0.869},
{"p":"c","r":23,"v":0,"y":0.823},{"p":"c","r":23,"v":2.04,"y":0.823},{"p":"c","r":23,"v":3.5,"y":0.835},{"p":"c","r":23,"v":4.8,"y":0.846},{"p":"c","r":23,"v":5.05,"y":0.85},{"p":"c","r":23,"v":5.6,"y":0.846},{"p":"c","r":23,"v":6.0,"y":0.85},{"p":"c","r":23,"v":6.6,"y":0.832},{"p":"c","r":23,"v":7.23,"y":0.823},{"p":"c","r":23,"v":9,"y":0.823},
{"p":"c","r":24,"v":0,"y":0.778},{"p":"c","r":24,"v":2.22,"y":0.778},{"p":"c","r":24,"v":3.6,"y":0.79},{"p":"c","r":24,"v":4.3,"y":0.798},{"p":"c","r":24,"v":4.91,"y":0.805},{"p":"c","r":24,"v":5.3,"y":0.802},{"p":"c","r":24,"v":5.7,"y":0.806},{"p":"c","r":24,"v":6.4,"y":0.788},{"p":"c","r":24,"v":7.23,"y":0.778},{"p":"c","r":24,"v":9,"y":0.778},
{"p":"c","r":25,"v":0,"y":0.733},{"p":"c","r":25,"v":1.77,"y":0.733},{"p":"c","r":25,"v":3.3,"y":0.745},{"p":"c","r":25,"v":4.0,"y":0.755},{"p":"c","r":25,"v":4.5,"y":0.758},{"p":"c","r":25,"v":5.0,"y":0.757},{"p":"c","r":25,"v":5.59,"y":0.762},{"p":"c","r":25,"v":6.3,"y":0.745},{"p":"c","r":25,"v":7.23,"y":0.733},{"p":"c","r":25,"v":9,"y":0.733},
{"p":"c","r":26,"v":0,"y":0.688},{"p":"c","r":26,"v":2.04,"y":0.688},{"p":"c","r":26,"v":3.4,"y":0.7},{"p":"c","r":26,"v":4.0,"y":0.712},{"p":"c","r":26,"v":4.6,"y":0.71},{"p":"c","r":26,"v":5.0,"y":0.713},{"p":"c","r":26,"v":5.5,"y":0.708},{"p":"c","r":26,"v":5.77,"y":0.716},{"p":"c","r":26,"v":6.4,"y":0.7},{"p":"c","r":26,"v":7.23,"y":0.688},{"p":"c","r":26,"v":9,"y":0.688},
{"p":"c","r":27,"v":0,"y":0.643},{"p":"c","r":27,"v":2.04,"y":0.643},{"p":"c","r":27,"v":3.6,"y":0.655},{"p":"c","r":27,"v":4.3,"y":0.666},{"p":"c","r":27,"v":4.8,"y":0.662},{"p":"c","r":27,"v":5.2,"y":0.67},{"p":"c","r":27,"v":5.68,"y":0.668},{"p":"c","r":27,"v":6.4,"y":0.655},{"p":"c","r":27,"v":7.23,"y":0.643},{"p":"c","r":27,"v":9,"y":0.643},
{"p":"c","r":28,"v":0,"y":0.598},{"p":"c","r":28,"v":2.04,"y":0.598},{"p":"c","r":28,"v":3.6,"y":0.608},{"p":"c","r":28,"v":4.5,"y":0.615},{"p":"c","r":28,"v":5.0,"y":0.618},{"p":"c","r":28,"v":5.77,"y":0.626},{"p":"c","r":28,"v":6.4,"y":0.61},{"p":"c","r":28,"v":7.23,"y":0.598},{"p":"c","r":28,"v":9,"y":0.598},
{"p":"c","r":29,"v":0,"y":0.553},{"p":"c","r":29,"v":2.59,"y":0.553},{"p":"c","r":29,"v":3.8,"y":0.563},{"p":"c","r":29,"v":4.4,"y":0.566},{"p":"c","r":29,"v":5.0,"y":0.575},{"p":"c","r":29,"v":5.86,"y":0.58},{"p":"c","r":29,"v":6.6,"y":0.563},{"p":"c","r":29,"v":7.5,"y":0.553},{"p":"c","r":29,"v":9,"y":0.553},
{"p":"c","r":30,"v":0,"y":0.507},{"p":"c","r":30,"v":2.04,"y":0.507},{"p":"c","r":30,"v":3.6,"y":0.518},{"p":"c","r":30,"v":4.3,"y":0.522},{"p":"c","r":30,"v":4.7,"y":0.53},{"p":"c","r":30,"v":5.2,"y":0.533},{"p":"c","r":30,"v":5.77,"y":0.535},{"p":"c","r":30,"v":6.4,"y":0.52},{"p":"c","r":30,"v":7.5,"y":0.507},{"p":"c","r":30,"v":9,"y":0.507},
{"p":"c","r":31,"v":0,"y":0.462},{"p":"c","r":31,"v":2.59,"y":0.462},{"p":"c","r":31,"v":3.8,"y":0.472},{"p":"c","r":31,"v":4.4,"y":0.475},{"p":"c","r":31,"v":5.05,"y":0.488},{"p":"c","r":31,"v":5.5,"y":0.482},{"p":"c","r":31,"v":5.86,"y":0.49},{"p":"c","r":31,"v":6.6,"y":0.475},{"p":"c","r":31,"v":7.78,"y":0.462},{"p":"c","r":31,"v":9,"y":0.462},
{"p":"c","r":32,"v":0,"y":0.417},{"p":"c","r":32,"v":2.22,"y":0.417},{"p":"c","r":32,"v":3.8,"y":0.428},{"p":"c","r":32,"v":4.6,"y":0.435},{"p":"c","r":32,"v":5.2,"y":0.438},{"p":"c","r":32,"v":5.68,"y":0.445},{"p":"c","r":32,"v":6.3,"y":0.432},{"p":"c","r":32,"v":7.23,"y":0.417},{"p":"c","r":32,"v":9,"y":0.417},
{"p":"c","r":33,"v":0,"y":0.372},{"p":"c","r":33,"v":2.04,"y":0.372},{"p":"c","r":33,"v":3.8,"y":0.382},{"p":"c","r":33,"v":4.7,"y":0.388},{"p":"c","r":33,"v":5.2,"y":0.39},{"p":"c","r":33,"v":5.5,"y":0.398},{"p":"c","r":33,"v":6.1,"y":0.395},{"p":"c","r":33,"v":6.6,"y":0.384},{"p":"c","r":33,"v":7.23,"y":0.372},{"p":"c","r":33,"v":9,"y":0.372},
{"p":"c","r":34,"v":0,"y":0.327},{"p":"c","r":34,"v":2.04,"y":0.327},{"p":"c","r":34,"v":3.5,"y":0.335},{"p":"c","r":34,"v":4.5,"y":0.34},{"p":"c","r":34,"v":5.23,"y":0.345},{"p":"c","r":34,"v":5.5,"y":0.352},{"p":"c","r":34,"v":5.77,"y":0.35},{"p":"c","r":34,"v":6.3,"y":0.34},{"p":"c","r":34,"v":7.05,"y":0.327},{"p":"c","r":34,"v":9,"y":0.327}
],
"m": [
{"p":"a","v":1.59,"y":1.862,"y2":1.902},{"p":"a","v":1.06,"y":1.817,"y2":1.857},{"p":"a","v":1.29,"y":1.772,"y2":1.812},{"p":"a","v":1.06,"y":1.727,"y2":1.767},{"p":"a","v":1.06,"y":1.681,"y2":1.721},{"p":"a","v":1.06,"y":1.636,"y2":1.676},{"p":"a","v":1.34,"y":1.591,"y2":1.631},{"p":"a","v":1.06,"y":1.546,"y2":1.586},{"p":"a","v":1.29,"y":1.501,"y2":1.541},{"p":"a","v":1.56,"y":1.456,"y2":1.496},{"p":"a","v":1.29,"y":1.411,"y2":1.451},{"p":"a","v":1.29,"y":1.365,"y2":1.405},{"p":"a","v":1.29,"y":1.32,"y2":1.36},{"p":"a","v":1.29,"y":1.275,"y2":1.315},{"p":"a","v":1.56,"y":1.23,"y2":1.27},{"p":"a","v":1.56,"y":1.185,"y2":1.225},{"p":"a","v":1.56,"y":1.14,"y2":1.18},{"p":"a","v":1.58,"y":1.094,"y2":1.134},{"p":"a","v":1.58,"y":1.049,"y2":1.089},{"p":"a","v":1.58,"y":1.004,"y2":1.044},{"p":"a","v":1.56,"y":0.959,"y2":0.999},{"p":"a","v":1.58,"y":0.914,"y2":0.954},{"p":"a","v":1.83,"y":0.869,"y2":0.909},{"p":"a","v":1.83,"y":0.823,"y2":0.863},{"p":"a","v":2.11,"y":0.778,"y2":0.818},{"p":"a","v":2.11,"y":0.733,"y2":0.773},{"p":"a","v":1.83,"y":0.688,"y2":0.728},{"p":"a","v":1.83,"y":0.643,"y2":0.683},{"p":"a","v":2.11,"y":0.598,"y2":0.638},{"p":"a","v":1.83,"y":0.553,"y2":0.593},{"p":"a","v":2.38,"y":0.507,"y2":0.547},{"p":"a","v":2.11,"y":0.462,"y2":0.502},{"p":"a","v":2.11,"y":0.417,"y2":0.457},{"p":"a","v":2.11,"y":0.372,"y2":0.412},{"p":"a","v":2.11,"y":0.327,"y2":0.367},
{"p":"b","v":0.8,"y":1.875,"y2":1.902},{"p":"b","v":0.8,"y":1.83,"y2":1.857},{"p":"b","v":1.06,"y":1.785,"y2":1.812},{"p":"b","v":1.06,"y":1.74,"y2":1.767},{"p":"b","v":1.06,"y":1.694,"y2":1.721},{"p":"b","v":1.34,"y":1.649,"y2":1.676},{"p":"b","v":1.2,"y":1.604,"y2":1.631},{"p":"b","v":1.06,"y":1.559,"y2":1.586},{"p":"b","v":1.34,"y":1.514,"y2":1.541},{"p":"b","v":1.6,"y":1.469,"y2":1.496},{"p":"b","v":1.85,"y":1.424,"y2":1.451},{"p":"b","v":1.7,"y":1.378,"y2":1.405},{"p":"b","v":1.88,"y":1.333,"y2":1.36},{"p":"b","v":2.24,"y":1.288,"y2":1.315},{"p":"b","v":2.7,"y":1.243,"y2":1.27},{"p":"b","v":3.15,"y":1.198,"y2":1.225},{"p":"b","v":3.1,"y":1.153,"y2":1.18},{"p":"b","v":3.1,"y":1.107,"y2":1.134},{"p":"b","v":2.68,"y":1.062,"y2":1.089},{"p":"b","v":2.38,"y":1.017,"y2":1.044},{"p":"b","v":2.2,"y":0.972,"y2":0.999},{"p":"b","v":2.1,"y":0.927,"y2":0.954},{"p":"b","v":2.15,"y":0.882,"y2":0.909},{"p":"b","v":2.3,"y":0.836,"y2":0.863},{"p":"b","v":2.94,"y":0.791,"y2":0.818},{"p":"b","v":3.24,"y":0.746,"y2":0.773},{"p":"b","v":3.74,"y":0.701,"y2":0.728},{"p":"b","v":4.26,"y":0.656,"y2":0.683},{"p":"b","v":4.26,"y":0.611,"y2":0.638},{"p":"b","v":5.05,"y":0.566,"y2":0.593},{"p":"b","v":5.37,"y":0.52,"y2":0.547},{"p":"b","v":5.78,"y":0.475,"y2":0.502},{"p":"b","v":2.68,"y":0.43,"y2":0.457},{"p":"b","v":2.88,"y":0.385,"y2":0.412},{"p":"b","v":3.8,"y":0.34,"y2":0.367},
{"p":"c","v":1.57,"y":1.875,"y2":1.902},{"p":"c","v":1.58,"y":1.83,"y2":1.857},{"p":"c","v":1.54,"y":1.785,"y2":1.812},{"p":"c","v":1.58,"y":1.74,"y2":1.767},{"p":"c","v":1.62,"y":1.694,"y2":1.721},{"p":"c","v":1.81,"y":1.649,"y2":1.676},{"p":"c","v":1.81,"y":1.604,"y2":1.631},{"p":"c","v":1.95,"y":1.559,"y2":1.586},{"p":"c","v":2.0,"y":1.514,"y2":1.541},{"p":"c","v":2.22,"y":1.469,"y2":1.496},{"p":"c","v":2.63,"y":1.424,"y2":1.451},{"p":"c","v":3.27,"y":1.378,"y2":1.405},{"p":"c","v":4.04,"y":1.333,"y2":1.36},{"p":"c","v":4.68,"y":1.288,"y2":1.315},{"p":"c","v":4.91,"y":1.243,"y2":1.27},{"p":"c","v":5.0,"y":1.198,"y2":1.225},{"p":"c","v":5.0,"y":1.153,"y2":1.18},{"p":"c","v":5.05,"y":1.107,"y2":1.134},{"p":"c","v":5.15,"y":1.062,"y2":1.089},{"p":"c","v":5.07,"y":1.017,"y2":1.044},{"p":"c","v":4.95,"y":0.972,"y2":0.999},{"p":"c","v":4.94,"y":0.927,"y2":0.954},{"p":"c","v":4.91,"y":0.882,"y2":0.909},{"p":"c","v":4.91,"y":0.836,"y2":0.863},{"p":"c","v":4.91,"y":0.791,"y2":0.818},{"p":"c","v":4.94,"y":0.746,"y2":0.773},{"p":"c","v":4.97,"y":0.701,"y2":0.728},{"p":"c","v":5.0,"y":0.656,"y2":0.683},{"p":"c","v":5.05,"y":0.611,"y2":0.638},{"p":"c","v":5.12,"y":0.566,"y2":0.593},{"p":"c","v":5.12,"y":0.52,"y2":0.547},{"p":"c","v":5.09,"y":0.475,"y2":0.502},{"p":"c","v":5.09,"y":0.43,"y2":0.457},{"p":"c","v":5.18,"y":0.385,"y2":0.412},{"p":"c","v":5.18,"y":0.34,"y2":0.367}
],
"e": [
{"p":"b","lo":1.0,"hi":1.4,"y":1.604},{"p":"b","lo":1.2,"hi":1.5,"y":1.514},{"p":"b","lo":1.43,"hi":2.0,"y":1.378},{"p":"b","lo":1.7,"hi":2.1,"y":1.333},{"p":"b","lo":2.0,"hi":2.56,"y":1.288},{"p":"b","lo":2.3,"hi":3.1,"y":1.243},{"p":"b","lo":3.0,"hi":3.4,"y":1.198},{"p":"b","lo":2.9,"hi":3.4,"y":1.153},{"p":"b","lo":2.75,"hi":3.4,"y":1.107},{"p":"b","lo":2.4,"hi":2.97,"y":1.062},{"p":"b","lo":2.1,"hi":2.65,"y":1.017},{"p":"b","lo":1.9,"hi":2.5,"y":0.972},{"p":"b","lo":1.8,"hi":2.33,"y":0.927},{"p":"b","lo":1.84,"hi":2.47,"y":0.882},{"p":"b","lo":2.1,"hi":2.5,"y":0.836},{"p":"b","lo":3.06,"hi":3.42,"y":0.746},{"p":"b","lo":5.2,"hi":5.55,"y":0.52},{"p":"b","lo":5.5,"hi":6.05,"y":0.475},{"p":"b","lo":2.4,"hi":3.0,"y":0.43},{"p":"b","lo":2.45,"hi":3.3,"y":0.385},{"p":"b","lo":2.45,"hi":5.2,"y":0.34},
{"p":"c","lo":0.7,"hi":2.4,"y":1.875},{"p":"c","lo":0.7,"hi":2.4,"y":1.83},{"p":"c","lo":0.8,"hi":2.4,"y":1.785},{"p":"c","lo":0.63,"hi":2.59,"y":1.74},{"p":"c","lo":0.49,"hi":3.22,"y":1.694},{"p":"c","lo":0.5,"hi":3.04,"y":1.649},{"p":"c","lo":0.86,"hi":2.77,"y":1.604},{"p":"c","lo":0.95,"hi":2.86,"y":1.559},{"p":"c","lo":1.0,"hi":2.8,"y":1.514},{"p":"c","lo":1.2,"hi":3.0,"y":1.469},{"p":"c","lo":1.8,"hi":3.4,"y":1.424},{"p":"c","lo":2.5,"hi":4.1,"y":1.378},{"p":"c","lo":3.0,"hi":5.0,"y":1.333},{"p":"c","lo":3.4,"hi":5.5,"y":1.288},{"p":"c","lo":3.9,"hi":5.8,"y":1.243},{"p":"c","lo":4.0,"hi":6.0,"y":1.198},{"p":"c","lo":3.9,"hi":6.1,"y":1.153},{"p":"c","lo":3.95,"hi":6.23,"y":1.107},{"p":"c","lo":4.0,"hi":6.3,"y":1.062},{"p":"c","lo":4.0,"hi":6.2,"y":1.017},{"p":"c","lo":3.8,"hi":6.1,"y":0.972},{"p":"c","lo":3.5,"hi":6.1,"y":0.927},{"p":"c","lo":3.8,"hi":6.0,"y":0.882},{"p":"c","lo":3.9,"hi":6.0,"y":0.836},{"p":"c","lo":3.9,"hi":6.1,"y":0.791},{"p":"c","lo":3.8,"hi":6.1,"y":0.746},{"p":"c","lo":3.9,"hi":6.1,"y":0.701},{"p":"c","lo":4.0,"hi":6.1,"y":0.656},{"p":"c","lo":4.0,"hi":6.2,"y":0.611},{"p":"c","lo":4.0,"hi":6.2,"y":0.566},{"p":"c","lo":4.0,"hi":6.2,"y":0.52},{"p":"c","lo":4.0,"hi":6.2,"y":0.475},{"p":"c","lo":4.1,"hi":6.3,"y":0.43},{"p":"c","lo":4.1,"hi":6.3,"y":0.385},{"p":"c","lo":4.1,"hi":6.3,"y":0.34}
]
},
"hconcat": [
{
 "width": 331, "height": 405,
 "title": {"text": "a) snow"},
 "layer": [
  {"data": {"name": "s"}, "transform": [{"filter": "datum.p == 'a'"}], "mark": {"type": "line", "color": "#6f6f6f", "strokeWidth": 1.3, "interpolate": "monotone"},
   "encoding": {
    "x": {"field": "v", "type": "quantitative", "scale": {"domain": [0, 9], "nice": false}, "axis": {"title": "radial velocity in m/s", "values": [0, 3, 6, 9], "tickCount": 10, "tickSize": 4, "labelPadding": 9, "titlePadding": 10, "labelOverlap": false}},
    "y": {"field": "y", "type": "quantitative", "scale": {"domain": [0.324, 1.906], "nice": false, "zero": false}, "axis": {"title": "height msl in km", "values": [0.4, 0.5, 0.6, 0.7, 0.8, 0.9, 1, 1.1, 1.2, 1.3, 1.4, 1.5, 1.6, 1.7, 1.8], "tickCount": 40, "labelExpr": "abs(datum.value - 0.5) < 0.01 ? '0.5' : abs(datum.value - 1) < 0.01 ? '1' : abs(datum.value - 1.5) < 0.01 ? '1.5' : ''", "tickSize": 5, "labelPadding": 5, "titlePadding": 10, "labelOverlap": false}},
    "detail": {"field": "r", "type": "nominal"}}},
  {"data": {"name": "m"}, "transform": [{"filter": "datum.p == 'a'"}], "mark": {"type": "rule", "color": "#8a8a8a", "strokeWidth": 1.2, "strokeDash": [3, 2]},
   "encoding": {"x": {"field": "v", "type": "quantitative"}, "y": {"field": "y", "type": "quantitative"}, "y2": {"field": "y2"}}},
  {"data": {"values": [{}]}, "mark": {"type": "text", "font": "Open Sans", "fontSize": 18, "color": "#3a3a3a", "align": "center", "baseline": "middle", "lineBreak": "\n", "lineHeight": 25},
   "encoding": {"x": {"datum": 6.86, "type": "quantitative"}, "y": {"datum": 1.756, "type": "quantitative"}, "text": {"value": "vertical beam\n08:08:48 UTC"}}}
 ]
},
{
 "width": 331, "height": 405,
 "title": {"text": "b) ice pellets"},
 "layer": [
  {"data": {"name": "s"}, "transform": [{"filter": "datum.p == 'b'"}], "mark": {"type": "line", "color": "#6f6f6f", "strokeWidth": 1.3, "interpolate": "monotone"},
   "encoding": {
    "x": {"field": "v", "type": "quantitative", "scale": {"domain": [0, 9], "nice": false}, "axis": {"title": "radial velocity in m/s", "values": [0, 3, 6, 9], "tickCount": 10, "tickSize": 4, "labelPadding": 9, "titlePadding": 10, "labelOverlap": false}},
    "y": {"field": "y", "type": "quantitative", "scale": {"domain": [0.324, 1.906], "nice": false, "zero": false}, "axis": {"title": "height msl in km", "values": [0.4, 0.5, 0.6, 0.7, 0.8, 0.9, 1, 1.1, 1.2, 1.3, 1.4, 1.5, 1.6, 1.7, 1.8], "tickCount": 40, "labelExpr": "abs(datum.value - 0.5) < 0.01 ? '0.5' : abs(datum.value - 1) < 0.01 ? '1' : abs(datum.value - 1.5) < 0.01 ? '1.5' : ''", "tickSize": 5, "labelPadding": 5, "titlePadding": 10, "labelOverlap": false}},
    "detail": {"field": "r", "type": "nominal"}}},
  {"data": {"name": "e"}, "transform": [{"filter": "datum.p == 'b'"}], "mark": {"type": "rule", "color": "#b0b0b0", "strokeWidth": 1.2},
   "encoding": {"x": {"field": "lo", "type": "quantitative"}, "x2": {"field": "hi"}, "y": {"field": "y", "type": "quantitative"}}},
  {"data": {"name": "m"}, "transform": [{"filter": "datum.p == 'b'"}], "mark": {"type": "rule", "color": "#8a8a8a", "strokeWidth": 1.2, "strokeDash": [3, 2]},
   "encoding": {"x": {"field": "v", "type": "quantitative"}, "y": {"field": "y", "type": "quantitative"}, "y2": {"field": "y2"}}},
  {"data": {"values": [{}]}, "mark": {"type": "text", "font": "Open Sans", "fontSize": 18, "color": "#3a3a3a", "align": "center", "baseline": "middle", "lineBreak": "\n", "lineHeight": 25},
   "encoding": {"x": {"datum": 6.94, "type": "quantitative"}, "y": {"datum": 1.752, "type": "quantitative"}, "text": {"value": "vertical beam\n08:33:03 UTC"}}}
 ]
},
{
 "width": 331, "height": 405,
 "title": {"text": "c) freezing rain"},
 "layer": [
  {"data": {"name": "s"}, "transform": [{"filter": "datum.p == 'c'"}], "mark": {"type": "line", "color": "#6f6f6f", "strokeWidth": 1.3, "interpolate": "monotone"},
   "encoding": {
    "x": {"field": "v", "type": "quantitative", "scale": {"domain": [0, 9], "nice": false}, "axis": {"title": "radial velocity in m/s", "values": [0, 3, 6, 9], "tickCount": 10, "tickSize": 4, "labelPadding": 9, "titlePadding": 10, "labelOverlap": false}},
    "y": {"field": "y", "type": "quantitative", "scale": {"domain": [0.324, 1.906], "nice": false, "zero": false}, "axis": {"title": "height msl in km", "values": [0.4, 0.5, 0.6, 0.7, 0.8, 0.9, 1, 1.1, 1.2, 1.3, 1.4, 1.5, 1.6, 1.7, 1.8], "tickCount": 40, "labelExpr": "abs(datum.value - 0.5) < 0.01 ? '0.5' : abs(datum.value - 1) < 0.01 ? '1' : abs(datum.value - 1.5) < 0.01 ? '1.5' : ''", "tickSize": 5, "labelPadding": 5, "titlePadding": 10, "labelOverlap": false}},
    "detail": {"field": "r", "type": "nominal"}}},
  {"data": {"name": "e"}, "transform": [{"filter": "datum.p == 'c'"}], "mark": {"type": "rule", "color": "#bdbdbd", "strokeWidth": 1.2},
   "encoding": {"x": {"field": "lo", "type": "quantitative"}, "x2": {"field": "hi"}, "y": {"field": "y", "type": "quantitative"}}},
  {"data": {"name": "m"}, "transform": [{"filter": "datum.p == 'c'"}], "mark": {"type": "rule", "color": "#8a8a8a", "strokeWidth": 1.2},
   "encoding": {"x": {"field": "v", "type": "quantitative"}, "y": {"field": "y", "type": "quantitative"}, "y2": {"field": "y2"}}},
  {"data": {"values": [{}]}, "mark": {"type": "text", "font": "Open Sans", "fontSize": 18, "color": "#3a3a3a", "align": "center", "baseline": "middle", "lineBreak": "\n", "lineHeight": 25},
   "encoding": {"x": {"datum": 6.89, "type": "quantitative"}, "y": {"datum": 1.75, "type": "quantitative"}, "text": {"value": "vertical beam\n09:00:12 UTC"}}}
 ]
}
]
}
